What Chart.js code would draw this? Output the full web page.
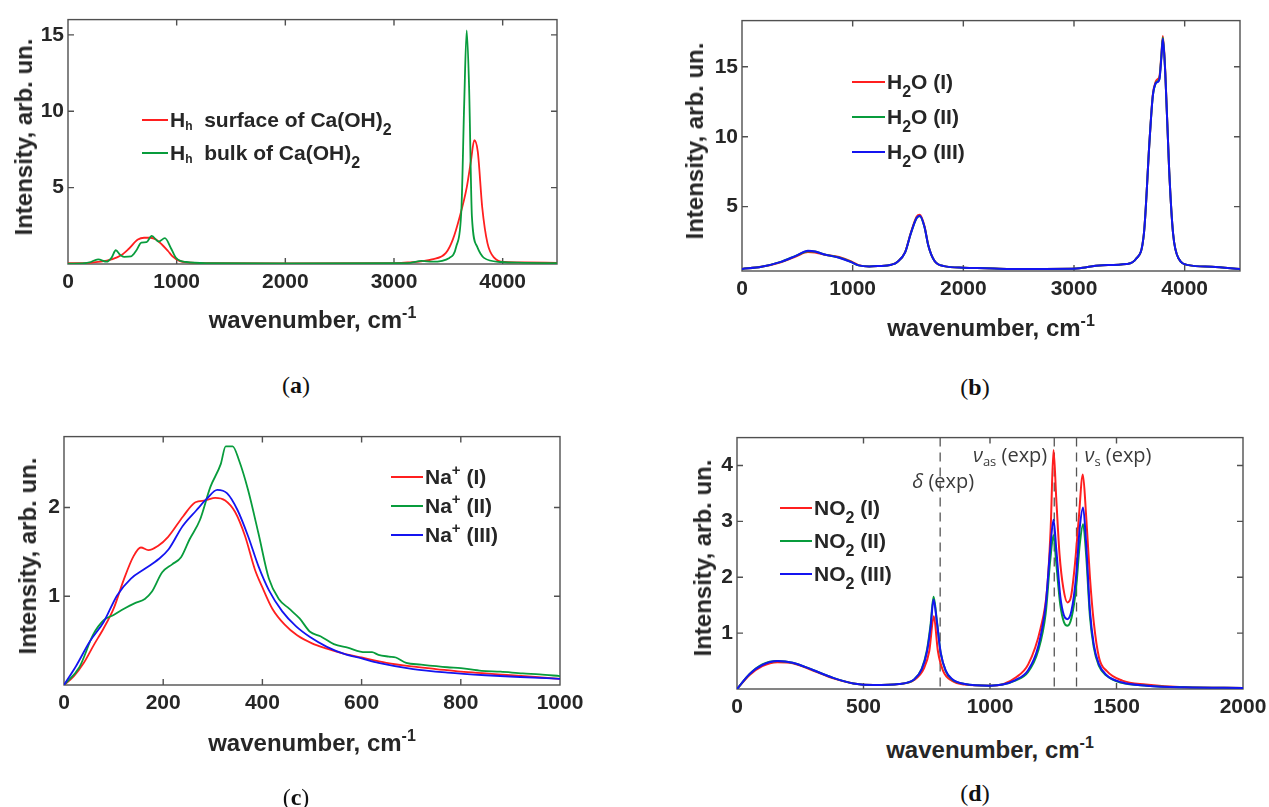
<!DOCTYPE html>
<html>
<head>
<meta charset="utf-8">
<script src="https://cdn.jsdelivr.net/npm/chart.js@4.4.1/dist/chart.umd.min.js"></script>
<style>
  body { margin: 0; background: #fff; }
  #fig { position: relative; width: 1269px; height: 807px; overflow: hidden;
         font-family: "Liberation Sans", Arial, sans-serif; color: #262626; }
  .ytitle, .xtitle { position: absolute; font-weight: bold; font-size: 24px; white-space: nowrap; }
  .ytitle { transform: translate(-50%, -50%) rotate(-90deg); }
  .xtitle { transform: translate(-50%, -50%); }
  .xtitle sup { font-size: 16px; vertical-align: 10px; line-height: 0; }
  .leg { position: absolute; font-weight: bold; font-size: 21px; white-space: nowrap;
         transform: translateY(-50%); line-height: 24px; }
  .leg sub { font-size: 16px; vertical-align: -8px; line-height: 0; }
  .leg sup { font-size: 15px; vertical-align: 9px; line-height: 0; }
  .leg .hsub { font-size: 12px; vertical-align: -3px; }
  .legline { position: absolute; height: 2px; transform: translateY(-50%); }
  .plabel { position: absolute; font-family: "Liberation Serif", "DejaVu Serif", serif; font-size: 24px;
            transform: translate(-50%, -50%); white-space: nowrap; color: #111; }
  .note { position: absolute; font-family: "Open Sans", "DejaVu Sans", sans-serif; font-size: 20px;
          color: #3a3a3a; white-space: nowrap; }
  .note sub { font-size: 13px; vertical-align: -4px; line-height: 0; }
</style>
</head>
<body>
<div id="fig"></div>
<script>
// ---------- (a) Ca(OH)2 ----------
const aRedX = [0, 200, 300, 400, 485, 560, 643, 700, 760, 810, 866, 920, 962, 1025, 1100, 1300, 2000, 3000, 3127, 3350, 3478, 3541, 3605, 3669, 3707, 3739, 3771, 3812, 3860, 3924, 4019, 4200, 4500];
const aRedY = [0.05, 0.08, 0.15, 0.3, 0.55, 1.0, 1.6, 1.72, 1.72, 1.6, 1.26, 0.85, 0.5, 0.2, 0.1, 0.06, 0.04, 0.06, 0.1, 0.3, 0.73, 1.6, 3.1, 5.0, 6.7, 8.1, 7.35, 3.7, 1.37, 0.4, 0.13, 0.1, 0.08];
const aGreenX = [0, 150, 197, 277, 357, 400, 440, 480, 516, 580, 630, 675, 723, 770, 834, 892, 946, 994, 1089, 1300, 2000, 3000, 3150, 3255, 3350, 3510, 3573, 3621, 3646, 3669, 3691, 3717, 3764, 3828, 3987, 4200, 4500];
const aGreenY = [0.02, 0.05, 0.1, 0.3, 0.15, 0.4, 0.9, 0.6, 0.47, 0.5, 0.9, 1.4, 1.43, 1.84, 1.47, 1.69, 1.05, 0.4, 0.13, 0.06, 0.04, 0.05, 0.08, 0.2, 0.15, 0.4, 1.15, 3.7, 10.5, 15.3, 11.6, 3.1, 1.15, 0.4, 0.13, 0.08, 0.05];
const aNames = ["H<sub class='hsub'>h</sub>&nbsp; surface of Ca(OH)<sub>2</sub>", "H<sub class='hsub'>h</sub>&nbsp; bulk of Ca(OH)<sub>2</sub>"];
const aXTicks = [0, 1000, 2000, 3000, 4000];
const aYTicks = [5, 10, 15];

// ---------- (b) H2O ----------
const bX = [0, 175, 351, 491, 596, 660, 737, 877, 982, 1053, 1150, 1228, 1350, 1404, 1474, 1526, 1579, 1607, 1649, 1684, 1737, 1825, 2000, 2200, 2421, 2700, 2982, 3100, 3228, 3474, 3561, 3632, 3684, 3712, 3737, 3754, 3772, 3789, 3803, 3825, 3860, 3895, 3947, 4035, 4246, 4500];
const bRed = [0.55, 0.7, 1.03, 1.45, 1.75, 1.72, 1.58, 1.4, 1.1, 0.82, 0.72, 0.75, 0.85, 1.05, 1.75, 3.15, 4.3, 4.42, 3.6, 2.22, 1.15, 0.75, 0.64, 0.6, 0.55, 0.55, 0.56, 0.65, 0.8, 0.9, 1.27, 3.1, 9.9, 13.0, 13.9, 14.1, 14.3, 15.8, 17.2, 14.6, 7.6, 3.1, 1.27, 0.82, 0.7, 0.55];
const bGreen = [0.55, 0.7, 1.05, 1.5, 1.82, 1.79, 1.6, 1.36, 1.06, 0.8, 0.72, 0.75, 0.85, 1.05, 1.73, 3.1, 4.2, 4.32, 3.55, 2.2, 1.15, 0.75, 0.64, 0.6, 0.55, 0.55, 0.56, 0.65, 0.8, 0.9, 1.27, 3.1, 9.9, 12.9, 13.8, 13.95, 14.15, 15.7, 17.1, 14.5, 7.6, 3.1, 1.27, 0.82, 0.7, 0.55];
const bBlue = [0.55, 0.7, 1.05, 1.5, 1.84, 1.8, 1.6, 1.35, 1.05, 0.8, 0.72, 0.75, 0.85, 1.05, 1.73, 3.1, 4.2, 4.35, 3.55, 2.2, 1.15, 0.75, 0.64, 0.6, 0.55, 0.55, 0.56, 0.65, 0.8, 0.9, 1.27, 3.1, 9.9, 12.9, 13.8, 13.9, 14.1, 15.6, 17.0, 14.5, 7.6, 3.1, 1.27, 0.82, 0.7, 0.55];
const bNames = ["H<sub>2</sub>O (I)", "H<sub>2</sub>O (II)", "H<sub>2</sub>O (III)"];
const bXTicks = [0, 1000, 2000, 3000, 4000];
const bYTicks = [5, 10, 15];

// ---------- (c) Na+ ----------
const cRedX = [0, 20, 40, 60, 80, 100, 120, 140, 155, 170, 190, 210, 240, 265, 285, 305, 325, 345, 365, 385, 400, 420, 445, 470, 500, 530, 560, 600, 650, 700, 750, 800, 850, 900, 950, 1000];
const cRedY = [0, 0.1, 0.25, 0.45, 0.64, 0.86, 1.18, 1.45, 1.55, 1.52, 1.57, 1.67, 1.9, 2.06, 2.08, 2.11, 2.08, 1.95, 1.68, 1.3, 1.1, 0.86, 0.68, 0.56, 0.47, 0.41, 0.36, 0.31, 0.25, 0.21, 0.18, 0.15, 0.13, 0.11, 0.09, 0.07];
const cGreenX = [0, 31, 59, 80, 100, 121, 142, 163, 177, 198, 218, 236, 253, 274, 295, 316, 326, 340, 353, 371, 392, 413, 433, 454, 475, 496, 517, 544, 572, 607, 621, 634, 655, 669, 690, 720, 773, 800, 842, 880, 925, 959, 1000];
const cGreenY = [0, 0.2, 0.57, 0.73, 0.79, 0.86, 0.92, 0.97, 1.05, 1.27, 1.36, 1.44, 1.64, 1.86, 2.23, 2.49, 2.69, 2.69, 2.53, 2.2, 1.71, 1.2, 0.97, 0.86, 0.75, 0.6, 0.55, 0.46, 0.42, 0.37, 0.37, 0.34, 0.32, 0.31, 0.25, 0.23, 0.2, 0.19, 0.16, 0.15, 0.13, 0.12, 0.1];
const cBlueX = [0, 25, 52, 80, 107, 135, 163, 191, 211, 239, 267, 288, 309, 329, 350, 371, 392, 413, 440, 468, 496, 530, 565, 600, 634, 704, 773, 850, 920, 1000];
const cBlueY = [0, 0.22, 0.49, 0.71, 1.01, 1.2, 1.31, 1.42, 1.53, 1.79, 1.97, 2.1, 2.2, 2.16, 1.97, 1.68, 1.34, 1.07, 0.83, 0.66, 0.54, 0.43, 0.35, 0.3, 0.25, 0.18, 0.14, 0.11, 0.09, 0.07];
const cNames = ["Na<sup>+</sup> (I)", "Na<sup>+</sup> (II)", "Na<sup>+</sup> (III)"];
const cXTicks = [0, 200, 400, 600, 800, 1000];
const cYTicks = [1, 2];

// ---------- (d) NO2 ----------
const dRedX = [0, 50, 100, 160, 220, 300, 380, 460, 540, 640, 700, 740, 760, 778, 794, 815, 849, 900, 1000, 1054, 1100, 1151, 1200, 1226, 1240, 1251, 1262, 1275, 1290, 1306, 1320, 1335, 1350, 1367, 1380, 1395, 1410, 1431, 1462, 1523, 1615, 1769, 2000];
const dRedY = [0, 0.25, 0.41, 0.48, 0.46, 0.33, 0.19, 0.1, 0.07, 0.09, 0.16, 0.38, 0.68, 1.3, 0.68, 0.32, 0.15, 0.08, 0.06, 0.09, 0.2, 0.44, 1.09, 1.8, 2.9, 4.28, 3.4, 2.4, 1.8, 1.55, 1.65, 2.2, 3.0, 3.84, 3.1, 2.0, 1.2, 0.56, 0.32, 0.15, 0.08, 0.03, 0.02];
const dX = [0, 50, 100, 160, 220, 300, 380, 460, 540, 640, 700, 730, 750, 765, 777, 790, 805, 825, 850, 900, 1000, 1050, 1100, 1150, 1190, 1220, 1238, 1251, 1262, 1278, 1292, 1306, 1322, 1340, 1355, 1368, 1380, 1395, 1410, 1430, 1460, 1520, 1620, 1770, 2000];
const dGreen = [0, 0.27, 0.44, 0.5, 0.47, 0.34, 0.2, 0.1, 0.07, 0.09, 0.17, 0.36, 0.68, 1.15, 1.65, 1.22, 0.65, 0.32, 0.17, 0.09, 0.06, 0.08, 0.15, 0.3, 0.68, 1.35, 2.3, 2.75, 2.25, 1.5, 1.2, 1.13, 1.27, 1.8, 2.6, 2.95, 2.4, 1.3, 0.75, 0.42, 0.24, 0.11, 0.06, 0.03, 0.02];
const dBlue = [0, 0.27, 0.43, 0.5, 0.47, 0.34, 0.2, 0.1, 0.07, 0.09, 0.17, 0.35, 0.65, 1.1, 1.6, 1.2, 0.65, 0.33, 0.18, 0.09, 0.06, 0.08, 0.16, 0.33, 0.75, 1.5, 2.5, 3.03, 2.5, 1.65, 1.32, 1.25, 1.4, 2.0, 2.9, 3.25, 2.6, 1.4, 0.8, 0.45, 0.25, 0.12, 0.06, 0.03, 0.02];
const dNames = ["NO<sub>2</sub> (I)", "NO<sub>2</sub> (II)", "NO<sub>2</sub> (III)"];
const dXTicks = [0, 500, 1000, 1500, 2000];
const dYTicks = [1, 2, 3, 4];
const dExpLines = [803, 1254, 1342];

const RED = "#ff1f1f", GREEN = "#089c3c", BLUE = "#1414f0";
const TICK_FONT = { family: "'Liberation Sans', Arial, sans-serif", size: 21, weight: "bold" };
const fig = document.getElementById("fig");

// MATLAB-like axes box with inward ticks
const boxPlugin = {
  id: "mbox",
  beforeDatasetsDraw(chart) {
    const { ctx, chartArea: a, scales } = chart;
    ctx.save();
    ctx.strokeStyle = "#505050";
    ctx.lineWidth = 1.4;
    ctx.strokeRect(a.left, a.top, a.right - a.left, a.bottom - a.top);
    ctx.beginPath();
    const tl = 6;
    scales.x.ticks.forEach((t) => {
      const px = scales.x.getPixelForValue(t.value);
      if (px < a.left + 2 || px > a.right - 2) return;
      ctx.moveTo(px, a.bottom); ctx.lineTo(px, a.bottom - tl);
      ctx.moveTo(px, a.top); ctx.lineTo(px, a.top + tl);
    });
    scales.y.ticks.forEach((t) => {
      const py = scales.y.getPixelForValue(t.value);
      if (py < a.top + 2 || py > a.bottom - 2) return;
      ctx.moveTo(a.left, py); ctx.lineTo(a.left + tl, py);
      ctx.moveTo(a.right, py); ctx.lineTo(a.right - tl, py);
    });
    ctx.stroke();
    ctx.restore();
  },
};

// dashed vertical lines for experimental frequencies
const expPlugin = {
  id: "expLines",
  beforeDatasetsDraw(chart, args, opts) {
    if (!opts.values) return;
    const { ctx, chartArea: a, scales } = chart;
    ctx.save();
    ctx.strokeStyle = "#555";
    ctx.lineWidth = 1.3;
    ctx.setLineDash([9, 6]);
    opts.values.forEach((v) => {
      const px = scales.x.getPixelForValue(v);
      ctx.beginPath(); ctx.moveTo(px, a.top); ctx.lineTo(px, a.bottom); ctx.stroke();
    });
    ctx.restore();
  },
};

function pairs(xs, ys) {
  return xs.map((x, i) => ({ x: x, y: ys[i] }));
}

function addDiv(cls, html, left, top, extra) {
  const el = document.createElement("div");
  el.className = cls;
  el.innerHTML = html;
  el.style.left = left + "px";
  el.style.top = top + "px";
  if (extra) Object.assign(el.style, extra);
  fig.appendChild(el);
  return el;
}

function makePanel(p) {
  const padL = 60, padT = 12, padR = 36, padB = 44;
  const w = p.box.R - p.box.L + padL + padR;
  const h = p.box.B - p.box.T + padT + padB;
  const cv = document.createElement("canvas");
  cv.width = w; cv.height = h;
  cv.style.cssText = `position:absolute;left:${p.box.L - padL}px;top:${p.box.T - padT}px;width:${w}px;height:${h}px;`;
  fig.appendChild(cv);

  const n = p.series.length;
  const chart = new Chart(cv, {
    type: "line",
    data: {
      datasets: p.series.map((s, i) => ({
        label: s.name.replace(/<[^>]+>/g, "").replace(/&nbsp;/g, " "),
        data: pairs(s.x, s.y),
        borderColor: s.color,
        borderWidth: p.lw,
        pointRadius: 0,
        cubicInterpolationMode: "monotone",
        order: n - i,
      })),
    },
    options: {
      responsive: false,
      animation: false,
      layout: { autoPadding: false, padding: { top: padT, right: padR, left: 0, bottom: 0 } },
      plugins: { legend: { display: false }, tooltip: { enabled: false }, expLines: { values: p.exp } },
      scales: {
        x: {
          type: "linear", min: p.xMin, max: p.xMax,
          afterBuildTicks: (s) => { s.ticks = p.xTicks.map((v) => ({ value: v })); },
          afterFit: (s) => { s.height = padB; },
          ticks: { font: TICK_FONT, color: "#262626", padding: 6, maxRotation: 0, autoSkip: false, callback: (v) => String(v) },
          grid: { display: false, drawTicks: false },
          border: { display: false },
        },
        y: {
          type: "linear", min: p.yMin, max: p.yMax,
          afterBuildTicks: (s) => { s.ticks = p.yTicks.map((v) => ({ value: v })); },
          afterFit: (s) => { s.width = padL; },
          ticks: { font: TICK_FONT, color: "#262626", padding: 4, autoSkip: false, callback: (v) => String(v) },
          grid: { display: false, drawTicks: false },
          border: { display: false },
        },
      },
    },
    plugins: [boxPlugin, expPlugin],
  });

  // axis titles
  const ox = p.box.L - padL, oy = p.box.T - padT;
  const ca = chart.chartArea;
  addDiv("ytitle", "Intensity, arb. un.", p.yTitleX, oy + (ca.top + ca.bottom) / 2 - 5);
  addDiv("xtitle", "wavenumber, cm<sup>-1</sup>", ox + (ca.left + ca.right) / 2, p.xTitleY);
  addDiv("plabel", "(<b>" + p.tag + "</b>)", p.tagX, p.tagY);

  // legend
  p.series.forEach((s, i) => {
    const y = p.leg.y0 + i * p.leg.dy;
    addDiv("legline", "", p.leg.x, y, { width: p.leg.len + "px", background: s.color });
    addDiv("leg", s.name, p.leg.x + p.leg.len + 2, y);
  });
  return { chart, ox, oy };
}

makePanel({
  tag: "a", box: { L: 68, R: 557, T: 15, B: 264 }, lw: 1.8,
  xMin: 0, xMax: 4500, yMin: 0, yMax: 16, xTicks: aXTicks, yTicks: aYTicks,
  series: [
    { name: aNames[0], x: aRedX, y: aRedY, color: RED },
    { name: aNames[1], x: aGreenX, y: aGreenY, color: GREEN },
  ],
  leg: { x: 142, len: 26, y0: 120, dy: 33 },
  yTitleX: 24, xTitleY: 320, tagX: 296, tagY: 385,
});

makePanel({
  tag: "b", box: { L: 742, R: 1240, T: 16, B: 271 }, lw: 2,
  xMin: 0, xMax: 4500, yMin: 0.4, yMax: 18.3, xTicks: bXTicks, yTicks: bYTicks,
  series: [
    { name: bNames[0], x: bX, y: bRed, color: RED },
    { name: bNames[1], x: bX, y: bGreen, color: GREEN },
    { name: bNames[2], x: bX, y: bBlue, color: BLUE },
  ],
  leg: { x: 852, len: 33, y0: 82, dy: 35 },
  yTitleX: 695, xTitleY: 328, tagX: 975, tagY: 387,
});

makePanel({
  tag: "c", box: { L: 64, R: 560, T: 432, B: 685 }, lw: 1.8,
  xMin: 0, xMax: 1000, yMin: 0, yMax: 2.8, xTicks: cXTicks, yTicks: cYTicks,
  series: [
    { name: cNames[0], x: cRedX, y: cRedY, color: RED },
    { name: cNames[1], x: cGreenX, y: cGreenY, color: GREEN },
    { name: cNames[2], x: cBlueX, y: cBlueY, color: BLUE },
  ],
  leg: { x: 391, len: 32, y0: 477, dy: 29 },
  yTitleX: 28, xTitleY: 743, tagX: 296, tagY: 797,
});

const d = makePanel({
  tag: "d", box: { L: 737, R: 1243, T: 433, B: 689 }, lw: 2,
  xMin: 0, xMax: 2000, yMin: 0, yMax: 4.5, xTicks: dXTicks, yTicks: dYTicks, exp: dExpLines,
  series: [
    { name: dNames[0], x: dRedX, y: dRedY, color: RED },
    { name: dNames[1], x: dX, y: dGreen, color: GREEN },
    { name: dNames[2], x: dX, y: dBlue, color: BLUE },
  ],
  leg: { x: 780, len: 32, y0: 508, dy: 33 },
  yTitleX: 703, xTitleY: 750, tagX: 975, tagY: 793,
});

// labels of the experimental lines, placed through the chart's scales
const dsx = d.chart.scales.x, dsy = d.chart.scales.y;
const lx = (v) => d.ox + dsx.getPixelForValue(v);
const ly = (v) => d.oy + dsy.getPixelForValue(v);
addDiv("note", "<i>δ</i> (exp)", lx(dExpLines[0]) + 3, ly(3.75), { transform: "translate(-50%,-50%)" });
addDiv("note", "<i>ν</i><sub>as</sub> (exp)", lx(dExpLines[1]) - 7, ly(4.2), { transform: "translate(-100%,-50%)" });
addDiv("note", "<i>ν</i><sub>s</sub> (exp)", lx(dExpLines[2]) + 8, ly(4.2), { transform: "translate(0,-50%)" });
</script>
</body>
</html>
